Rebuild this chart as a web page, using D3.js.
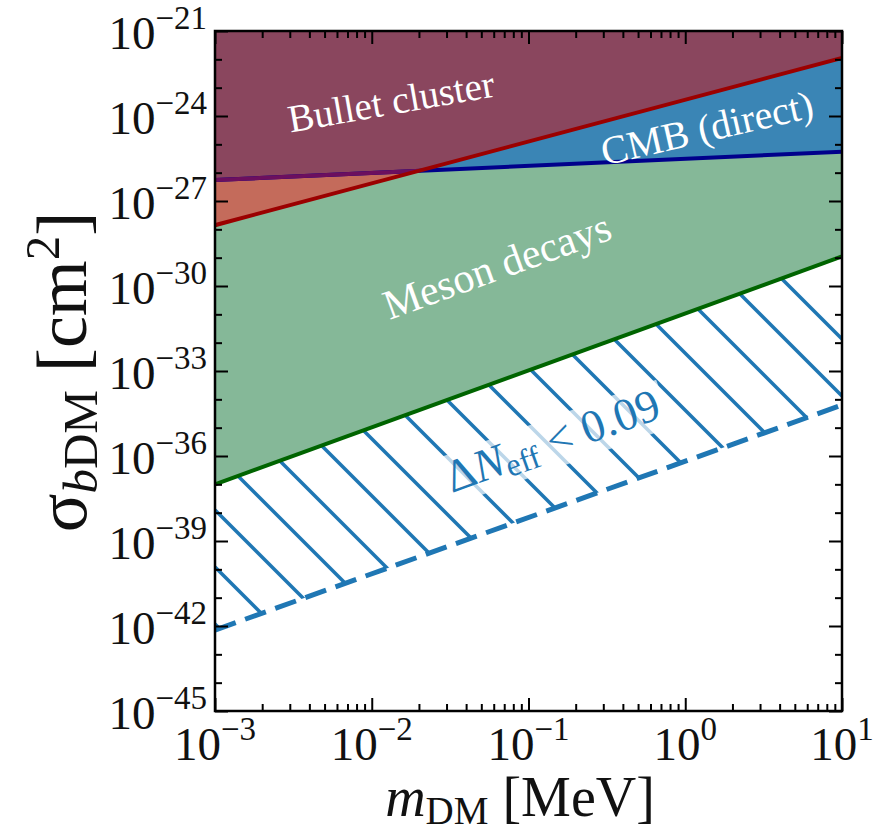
<!DOCTYPE html>
<html><head><meta charset="utf-8">
<script src="https://cdn.jsdelivr.net/npm/d3@7"></script>
<style>
body{margin:0;background:#fff}
svg{display:block}
text{font-family:"Liberation Serif","Times New Roman",serif}
</style>
</head><body>
<svg id="chart" width="874" height="836"></svg>
<script>
// ---------- data ----------
const massDomain = [1e-3, 1e1];          // m_DM [MeV]
const sigmaDomain = [1e-45, 1e-21];      // sigma [cm^2]
const xTickExps = [-3, -2, -1, 0, 1];
const yTickExps = [-21, -24, -27, -30, -33, -36, -39, -42, -45];
// boundary lines (straight in log-log), sigma at m = massPoints
const massPoints    = [1e-3, 1e1];
const bulletCluster = [1.4e-28, 1.12e-22];
const cmbDirect     = [5.5e-27, 5.5e-26];
const mesonDecays   = [1.0e-37, 1.1e-29];
const deltaNeff     = [7.2e-43, 6.3e-35];
const labels = {
  bullet: "Bullet cluster",
  cmb: "CMB (direct)",
  meson: "Meson decays"
};

// ---------- layout ----------
const L = 215, R = 842, T = 31, B = 711;
const svg = d3.select("#chart");
const x = d3.scaleLog().domain(massDomain).range([L, R]);
const y = d3.scaleLog().domain(sigmaDomain).range([B, T]);

const col = {
  green: "#85b898", orange: "#c46b5b", blue: "#3a85b5", maroon: "#8a465e",
  red: "#9b0000", navy: "#00008b", purple: "#6c0f5e", dgreen: "#006400",
  hatch: "#1f77b4"
};

const defs = svg.append("defs");
defs.append("clipPath").attr("id", "plotclip")
  .append("rect").attr("x", L).attr("y", T).attr("width", R - L).attr("height", B - T);

const pts = vals => massPoints.map((m, i) => [x(m), y(vals[i])]);
const line = d3.line();
const above = vals => {
  const p = pts(vals);
  return [...p, [x(massPoints[1]), y(sigmaDomain[1])], [x(massPoints[0]), y(sigmaDomain[1])]];
};
const between = (up, lo) => [...pts(up), ...pts(lo).reverse()];

defs.append("clipPath").attr("id", "aboveCmb")
  .append("path").attr("d", line(above(cmbDirect)) + "Z");
defs.append("clipPath").attr("id", "aboveBullet")
  .append("path").attr("d", line(above(bulletCluster)) + "Z");
defs.append("clipPath").attr("id", "hatchclip")
  .append("path").attr("d", line(between(mesonDecays, deltaNeff)) + "Z");

const g = svg.append("g").attr("clip-path", "url(#plotclip)");

// fills
g.append("path").attr("d", line(above(mesonDecays)) + "Z").attr("fill", col.green);
g.append("path").attr("d", line(above(bulletCluster)) + "Z").attr("fill", col.orange);
g.append("path").attr("d", line(above(cmbDirect)) + "Z").attr("fill", col.blue);
g.append("g").attr("clip-path", "url(#aboveCmb)")
  .append("path").attr("d", line(above(bulletCluster)) + "Z").attr("fill", col.maroon);

// hatch ("\" lines at 45 degrees, pixel-space pattern)
const hg = g.append("g").attr("clip-path", "url(#hatchclip)");
const step = 57, phase = 510;
for (let k = -14; k <= 14; k++) {
  const c = phase + k * step;
  hg.append("line").attr("x1", L).attr("y1", c).attr("x2", R).attr("y2", c + (R - L))
    .attr("stroke", col.hatch).attr("stroke-width", 3.5);
}

// boundary lines
g.append("path").attr("d", line(pts(cmbDirect))).attr("stroke", col.navy).attr("stroke-width", 4).attr("fill", "none");
g.append("g").attr("clip-path", "url(#aboveBullet)")
  .append("path").attr("d", line(pts(cmbDirect))).attr("stroke", col.purple).attr("stroke-width", 4).attr("fill", "none");
g.append("path").attr("d", line(pts(bulletCluster))).attr("stroke", col.red).attr("stroke-width", 4).attr("fill", "none");
g.append("path").attr("d", line(pts(mesonDecays))).attr("stroke", col.dgreen).attr("stroke-width", 4).attr("fill", "none");
g.append("path").attr("d", line(pts(deltaNeff))).attr("stroke", col.hatch).attr("stroke-width", 5)
  .attr("stroke-dasharray", "22,10").attr("fill", "none");

// angle helper
const ang = vals => { const p = pts(vals); return Math.atan2(p[1][1] - p[0][1], p[1][0] - p[0][0]) * 180 / Math.PI; };

// region labels
function rlabel(txt, cx, cy, rot, size) {
  svg.append("text").attr("transform", `translate(${cx},${cy}) rotate(${rot})`)
    .attr("text-anchor", "middle").attr("dominant-baseline", "central")
    .attr("fill", "#fff").attr("font-size", size).text(txt);
}
rlabel(labels.bullet, 391, 101, -10, 39);
rlabel(labels.cmb, 707, 128, -13, 40);
rlabel(labels.meson, 497, 266, ang(mesonDecays), 42);

// Delta N_eff label with translucent box
const ng = svg.append("g").attr("transform", `translate(552,440) rotate(${ang(deltaNeff)})`);
const box = ng.append("rect");
const nt = ng.append("text").attr("text-anchor", "middle").attr("dominant-baseline", "central")
  .attr("fill", col.hatch).attr("font-size", 46);
nt.append("tspan").text("Δ");
nt.append("tspan").attr("font-style", "italic").text("N");
nt.append("tspan").attr("font-size", 32).attr("dy", 10).text("eff");
nt.append("tspan").attr("dy", -10).text(" < 0.09");
const bb = nt.node().getBBox();
box.attr("x", bb.x - 6).attr("y", bb.y + 4).attr("width", bb.width + 12).attr("height", bb.height - 4)
  .attr("fill", "#fff").attr("fill-opacity", 0.7);

// ---------- axes ----------
const majorX = xTickExps.map(e => Math.pow(10, e));
const minorX = [];
for (let e = -3; e < 1; e++) for (let k = 2; k <= 9; k++) minorX.push(k * Math.pow(10, e));
const allY = d3.range(-45, -20).map(e => Math.pow(10, e));
const majorY = yTickExps.map(e => Math.pow(10, e));
const minorY = allY.filter(v => !majorY.some(m => Math.abs(Math.log10(m) - Math.log10(v)) < 1e-6));

function ticks(axisFn, scale, vals, size, tr) {
  const a = svg.append("g").attr("transform", tr)
    .call(axisFn(scale).tickValues(vals).tickSize(-size).tickFormat(""));
  a.select(".domain").remove();
  a.selectAll(".tick line").attr("stroke", "#000").attr("stroke-width", 2);
}
ticks(d3.axisBottom, x, majorX, 13, `translate(0,${B})`);
ticks(d3.axisBottom, x, minorX, 7, `translate(0,${B})`);
ticks(d3.axisTop, x, majorX, 13, `translate(0,${T})`);
ticks(d3.axisTop, x, minorX, 7, `translate(0,${T})`);
ticks(d3.axisLeft, y, majorY, 13, `translate(${L},0)`);
ticks(d3.axisLeft, y, minorY, 7, `translate(${L},0)`);
ticks(d3.axisRight, y, majorY, 13, `translate(${R},0)`);
ticks(d3.axisRight, y, minorY, 7, `translate(${R},0)`);

svg.append("rect").attr("x", L).attr("y", T).attr("width", R - L).attr("height", B - T)
  .attr("fill", "none").attr("stroke", "#000").attr("stroke-width", 2.5);

// tick labels
xTickExps.forEach(e => {
  const t = svg.append("text").attr("x", x(Math.pow(10, e))).attr("y", 760)
    .attr("text-anchor", "middle").attr("font-size", 47).attr("fill", "#111");
  t.append("tspan").text("10");
  t.append("tspan").attr("font-size", 33).attr("dy", -20).text(e < 0 ? "−" + (-e) : String(e));
});
yTickExps.forEach(e => {
  const t = svg.append("text").attr("x", 207).attr("y", y(Math.pow(10, e)) + 18)
    .attr("text-anchor", "end").attr("font-size", 47).attr("fill", "#111");
  t.append("tspan").text("10");
  t.append("tspan").attr("font-size", 33).attr("dy", -20).text("−" + (-e));
});

// axis titles
const xt = svg.append("text").attr("x", 520).attr("y", 816).attr("text-anchor", "middle")
  .attr("font-size", 56).attr("fill", "#111");
xt.append("tspan").attr("font-style", "italic").text("m");
xt.append("tspan").attr("font-size", 39).attr("dy", 8).text("DM");
xt.append("tspan").attr("dy", -8).text(" [MeV]");

const yt = svg.append("text").attr("transform", "translate(86,372) rotate(-90)").attr("text-anchor", "middle")
  .attr("font-size", 72).attr("fill", "#111");
yt.append("tspan").text("σ");
yt.append("tspan").attr("font-size", 49).attr("dy", 11).attr("font-style", "italic").text("b");
yt.append("tspan").attr("font-size", 49).text("DM");
yt.append("tspan").attr("dy", -11).text(" [cm");
yt.append("tspan").attr("font-size", 49).attr("dy", -27).text("2");
yt.append("tspan").attr("dy", 27).text("]");
</script>
</body></html>
